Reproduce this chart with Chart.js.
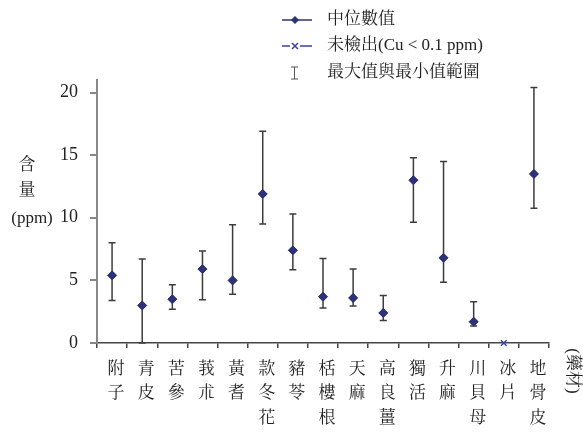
<!DOCTYPE html>
<html>
<head>
<meta charset="utf-8">
<script src="https://cdn.jsdelivr.net/npm/chart.js@4/dist/chart.umd.min.js"></script>
<style>
html,body{margin:0;padding:0;background:#fff;}
#wrap{position:relative;width:583px;height:432px;}
</style>
</head>
<body>
<div id="wrap"><canvas id="c" width="583" height="432"></canvas></div>
<script>
const categories = [['附','子'],['青','皮'],['苦','參'],['莪','朮'],['黃','耆'],['款','冬','花'],['豬','苓'],['栝','樓','根'],['天','麻'],['高','良','薑'],['獨','活'],['升','麻'],['川','貝','母'],['冰','片'],['地','骨','皮']];
const medianValues = [5.4, 3.0, 3.5, 5.9, 5.0, 11.9, 7.4, 3.7, 3.6, 2.4, 13.0, 6.8, 1.7, null, 13.5];
const maxValues    = [8.0, 6.7, 4.65, 7.35, 9.45, 16.9, 10.3, 6.75, 5.9, 3.8, 14.8, 14.5, 3.3, null, 20.4];
const minValues    = [3.4, 0.0, 2.7, 3.45, 3.9, 9.5, 5.85, 2.8, 2.95, 1.8, 9.65, 4.85, 1.35, null, 10.75];
const notDetectedValues = [null, null, null, null, null, null, null, null, null, null, null, null, null, 0, null];
const yTicks = [0, 5, 10, 15, 20];
const legendLabels = ['中位數值', '未檢出(Cu < 0.1 ppm)', '最大值與最小值範圍'];
const yTitle = ['含', '量', '(ppm)'];
const xTitle = '(藥材)';

const FONT = "'Liberation Serif', 'Noto Serif CJK TC', 'Noto Sans CJK TC', serif";
const MARK = '#2d3278';
const BAR = '#3c3c3c';
const ND = '#3b43a0';

const errorBars = {
  id: 'errorBars',
  afterDatasetsDraw(chart) {
    const ctx = chart.ctx, x = chart.scales.x, y = chart.scales.y;
    ctx.save();
    ctx.strokeStyle = BAR;
    ctx.lineWidth = 1.5;
    for (let i = 0; i < categories.length; i++) {
      if (maxValues[i] == null) continue;
      const px = x.getPixelForValue(i);
      const yt = y.getPixelForValue(maxValues[i]);
      const yb = y.getPixelForValue(minValues[i]);
      ctx.beginPath();
      ctx.moveTo(px, yt); ctx.lineTo(px, yb);
      ctx.moveTo(px - 3.5, yt); ctx.lineTo(px + 3.5, yt);
      ctx.moveTo(px - 3.5, yb); ctx.lineTo(px + 3.5, yb);
      ctx.stroke();
    }
    // redraw medians on top of bars
    ctx.fillStyle = MARK;
    for (let i = 0; i < categories.length; i++) {
      if (medianValues[i] == null) continue;
      const px = x.getPixelForValue(i), py = y.getPixelForValue(medianValues[i]);
      ctx.beginPath(); ctx.moveTo(px, py-4.5); ctx.lineTo(px+4.5, py); ctx.lineTo(px, py+4.5); ctx.lineTo(px-4.5, py); ctx.closePath(); ctx.fill();
    }
    ctx.restore();
  },
  afterDraw(chart) {
    const ctx = chart.ctx;
    ctx.save();
    ctx.fillStyle = '#222';
    // y title
    ctx.font = '17px ' + FONT;
    ctx.textAlign = 'center';
    ctx.textBaseline = 'middle';
    ctx.fillText(yTitle[0], 27, 166);
    ctx.fillText(yTitle[1], 27, 191);
    ctx.fillText(yTitle[2], 32, 219);
    // x title rotated
    ctx.save();
    ctx.translate(572, 371);
    ctx.rotate(Math.PI / 2);
    ctx.fillText(xTitle, 0, 0);
    ctx.restore();
    // legend
    const rows = [20, 46, 73];
    ctx.textAlign = 'left';
    for (let r = 0; r < 3; r++) ctx.fillText(legendLabels[r], 327, rows[r]);
    ctx.strokeStyle = MARK; ctx.lineWidth = 1.5;
    ctx.beginPath(); ctx.moveTo(282, rows[0]); ctx.lineTo(312, rows[0]); ctx.stroke();
    ctx.fillStyle = MARK;
    ctx.beginPath(); ctx.moveTo(295, rows[0]-4); ctx.lineTo(299, rows[0]); ctx.lineTo(295, rows[0]+4); ctx.lineTo(291, rows[0]); ctx.closePath(); ctx.fill();
    ctx.strokeStyle = ND;
    ctx.beginPath(); ctx.moveTo(282, rows[1]); ctx.lineTo(290, rows[1]); ctx.moveTo(300, rows[1]); ctx.lineTo(312, rows[1]); ctx.stroke();
    ctx.beginPath(); ctx.moveTo(292, rows[1]-3); ctx.lineTo(298, rows[1]+3); ctx.moveTo(298, rows[1]-3); ctx.lineTo(292, rows[1]+3); ctx.stroke();
    ctx.strokeStyle = '#555'; ctx.lineWidth = 1;
    ctx.beginPath(); ctx.moveTo(294.5, rows[2]-6); ctx.lineTo(294.5, rows[2]+6);
    ctx.moveTo(291, rows[2]-6); ctx.lineTo(298, rows[2]-6);
    ctx.moveTo(291, rows[2]+6); ctx.lineTo(298, rows[2]+6); ctx.stroke();
    ctx.restore();
  }
};

new Chart(document.getElementById('c'), {
  type: 'line',
  data: {
    labels: categories,
    datasets: [
      { label: legendLabels[0], data: medianValues, showLine: false, pointStyle: 'rectRot', pointRadius: 4.5, pointHoverRadius: 4.5, backgroundColor: MARK, borderColor: MARK, borderWidth: 1 },
      { label: legendLabels[1], data: notDetectedValues, showLine: false, clip: false, pointStyle: 'crossRot', pointRadius: 4, backgroundColor: ND, borderColor: ND, borderWidth: 1.5 }
    ]
  },
  options: {
    responsive: false,
    animation: false,
    events: [],
    layout: { padding: { top: 80, right: 34, left: 0, bottom: 0 } },
    plugins: { legend: { display: false }, tooltip: { enabled: false } },
    scales: {
      x: {
        type: 'category',
        offset: true,
        afterFit(axis) { axis.height = 89; },
        border: { display: true, color: '#444', width: 1.5 },
        grid: { offset: true, drawOnChartArea: false, drawTicks: true, tickLength: 5, color: '#444', lineWidth: 1.5 },
        ticks: { color: '#222', font: { family: FONT, size: 17, lineHeight: 1.45 }, padding: 9, labelOffset: 4, maxRotation: 0, autoSkip: false }
      },
      y: {
        min: 0, max: 21,
        afterFit(axis) { axis.width = 97; },
        afterBuildTicks(axis) { axis.ticks = yTicks.map(v => ({ value: v })); },
        border: { display: true, color: '#888', width: 2 },
        grid: { drawOnChartArea: false, drawTicks: true, tickLength: 7, color: '#888', lineWidth: 2 },
        ticks: { color: '#222', font: { family: FONT, size: 18 }, padding: 12 }
      }
    }
  },
  plugins: [errorBars]
});
</script>
</body>
</html>
